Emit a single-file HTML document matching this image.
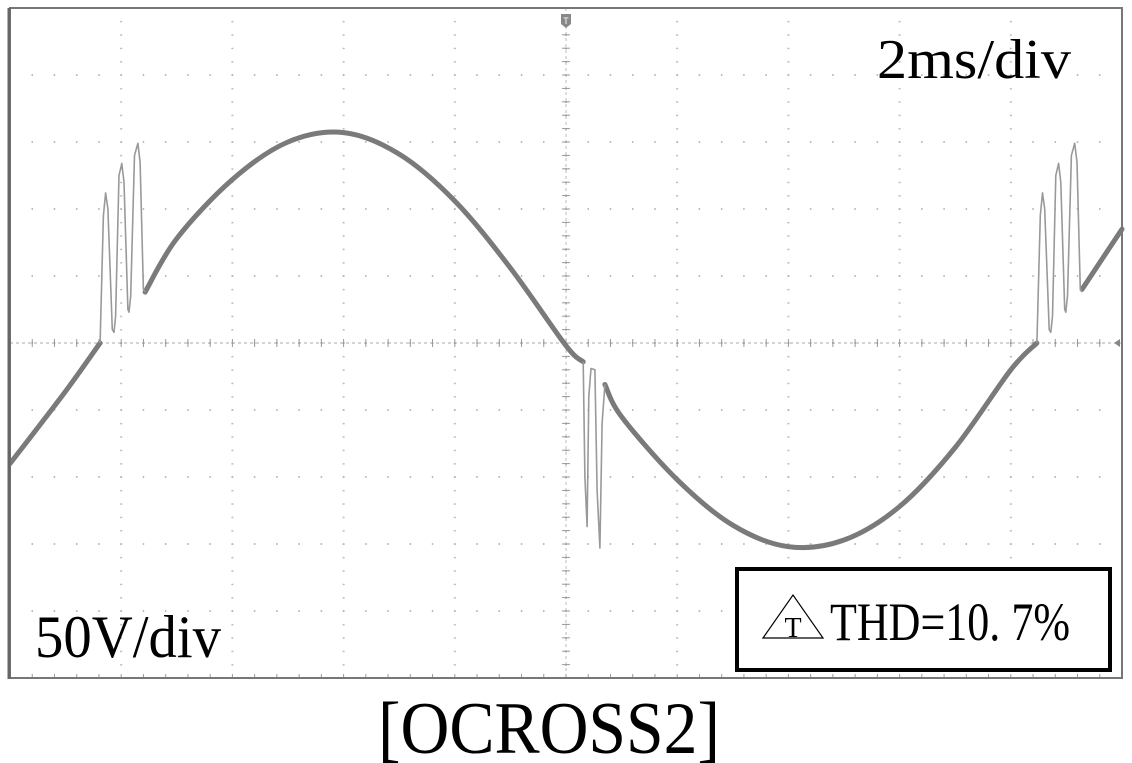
<!DOCTYPE html>
<html><head><meta charset="utf-8"><style>
html,body{margin:0;padding:0;background:#fff;}
svg{display:block;}
text{font-family:"Liberation Serif",serif;fill:#000;}
</style></head><body>
<svg id="chart" width="1132" height="763" viewBox="0 0 1132 763" xmlns="http://www.w3.org/2000/svg">
<rect x="0" y="0" width="1132" height="763" fill="#fff"/>
<g id="grid"></g>
<g id="traces"></g>
<rect x="10" y="8" width="1112" height="670" fill="none" stroke="#777" stroke-width="2"/>
<line x1="9" y1="8" x2="9" y2="679" stroke="#666" stroke-width="3"/>
<g>
<path d="M561,14 h10 v10 l-5,4 l-5,-4 z" fill="#888"/>
<text x="566" y="24" font-size="9" text-anchor="middle" style="fill:#fff;font-family:'Liberation Sans',sans-serif">T</text>
</g>
<path d="M1120,339 l-6,4 l6,4 z" fill="#888"/>
<text x="877" y="78" font-size="56" textLength="194" lengthAdjust="spacingAndGlyphs">2ms/div</text>
<text x="35" y="657" font-size="60" textLength="186" lengthAdjust="spacingAndGlyphs">50V/div</text>
<g>
<rect x="737" y="569" width="373" height="101" fill="#fff" stroke="#000" stroke-width="4"/>
<path d="M763,638 L793,595 L823,638 Z" fill="none" stroke="#000" stroke-width="1.2"/>
<text x="793" y="637" font-size="28" text-anchor="middle">T</text>
<text x="830" y="640" font-size="54" textLength="240" lengthAdjust="spacingAndGlyphs">THD=10. 7%</text>
</g>
<text x="378" y="753" font-size="74" textLength="342" lengthAdjust="spacingAndGlyphs">[OCROSS2]</text>
</svg>
<script>
// time in ms (2 ms/div), voltage in V (50 V/div)
const timeTicks = [-10,-8,-6,-4,-2,0,2,4,6,8,10];
const voltTicks = [-250,-200,-150,-100,-50,0,50,100,150,200,250];
const mainT = [-10,-9,-8.38,null,-7.57,-7,-6,-5,-4,-3,-2,-1,0,0.31,null,0.70,1,2,3,4,5,6,7,8,8.47,null,9.28,10];
const mainV = [-90,-36,0,null,38,78,122,150,157,141,106,56,-2,-14,null,-31,-55,-102,-136,-152,-147,-122,-78,-20,0,null,40,85];
const burst1T = [-8.38,-8.32,-8.28,-8.24,-8.16,-8.13,-8.10,-8.04,-7.99,-7.95,-7.88,-7.86,-7.83,-7.76,-7.70,-7.66,-7.60,-7.57];
const burst1V = [0,95,112,100,10,8,20,125,134,120,25,23,35,140,149,135,40,38];
const burst2T = [0.31,0.34,0.38,0.41,0.45,0.52,0.56,0.61,0.65,0.70];
const burst2V = [-14,-100,-137,-40,-19,-20,-110,-153,-60,-31];
const burst3T = [8.47,8.53,8.57,8.61,8.69,8.72,8.75,8.81,8.86,8.90,8.97,8.99,9.02,9.09,9.15,9.19,9.25,9.28];
const burst3V = [0,95,112,100,10,8,20,125,134,120,25,23,35,140,149,135,40,38];

const X0=10, X1=1122, Y0=8, Y1=678;
const xs = t => X0 + (t - timeTicks[0]) / (timeTicks[timeTicks.length-1]-timeTicks[0]) * (X1-X0);
const ys = v => Y1 - (v - voltTicks[0]) / (voltTicks[voltTicks.length-1]-voltTicks[0]) * (Y1-Y0);
const NS='http://www.w3.org/2000/svg';
const grid=document.getElementById('grid');
const traces=document.getElementById('traces');

timeTicks.forEach((t,i)=>{
  const x=xs(t);
  for(let k=0;k<=50;k++){
    const y=Y0+k*(Y1-Y0)/50;
    const d=document.createElementNS(NS,'rect');
    
    
    d.setAttribute('x',x-1);d.setAttribute('y',y-0.5);d.setAttribute('width',2);d.setAttribute('height',1.5);
    d.setAttribute('fill',t===0?'#999':'#bbb');
    grid.appendChild(d);
  }
});
voltTicks.forEach(v=>{
  const y=ys(v);
  for(let k=0;k<=50;k++){
    const x=X0+k*(X1-X0)/50;
    const d=document.createElementNS(NS,'rect');
    
    
    d.setAttribute('x',x-0.75);d.setAttribute('y',y-1);d.setAttribute('width',1.5);d.setAttribute('height',2);
    d.setAttribute('fill',v===0?'#999':'#bbb');
    grid.appendChild(d);
  }
});
const cx=xs(0), cy=ys(0);
const hl=document.createElementNS(NS,'line');


hl.setAttribute('x1',X0);hl.setAttribute('x2',X1);hl.setAttribute('y1',cy);hl.setAttribute('y2',cy);
hl.setAttribute('stroke','#aaa');hl.setAttribute('stroke-dasharray','3 3');
grid.appendChild(hl);
const vl=document.createElementNS(NS,'line');


vl.setAttribute('x1',cx);vl.setAttribute('x2',cx);vl.setAttribute('y1',Y0);vl.setAttribute('y2',Y1);
vl.setAttribute('stroke','#bbb');vl.setAttribute('stroke-dasharray','3 3');
grid.appendChild(vl);
for(let k=0;k<=50;k++){
  const x=X0+k*(X1-X0)/50;
  const tk=document.createElementNS(NS,'line');
  
  
  tk.setAttribute('x1',x);tk.setAttribute('x2',x);tk.setAttribute('y1',cy-4);tk.setAttribute('y2',cy+4);
  tk.setAttribute('stroke','#999');
  grid.appendChild(tk);
  const tb=document.createElementNS(NS,'line');
  
  
  tb.setAttribute('x1',x);tb.setAttribute('x2',x);tb.setAttribute('y1',Y1-4);tb.setAttribute('y2',Y1);
  tb.setAttribute('stroke','#999');
  grid.appendChild(tb);
}
for(let k=0;k<=50;k++){
  const y=Y0+k*(Y1-Y0)/50;
  const tk=document.createElementNS(NS,'line');
  
  
  tk.setAttribute('x1',cx-4);tk.setAttribute('x2',cx+4);tk.setAttribute('y1',y);tk.setAttribute('y2',y);
  tk.setAttribute('stroke','#999');
  grid.appendChild(tk);
}

function smoothPath(pts){
  if(pts.length<2) return '';
  let d='M'+pts[0][0].toFixed(1)+','+pts[0][1].toFixed(1);
  for(let i=0;i<pts.length-1;i++){
    const p0=pts[i-1]||pts[i], p1=pts[i], p2=pts[i+1], p3=pts[i+2]||p2;
    const c1x=p1[0]+(p2[0]-p0[0])/6, c1y=p1[1]+(p2[1]-p0[1])/6;
    const c2x=p2[0]-(p3[0]-p1[0])/6, c2y=p2[1]-(p3[1]-p1[1])/6;
    d+=' C'+c1x.toFixed(1)+','+c1y.toFixed(1)+' '+c2x.toFixed(1)+','+c2y.toFixed(1)+' '+p2[0].toFixed(1)+','+p2[1].toFixed(1);
  }
  return d;
}
let seg=[];
const segs=[];
mainT.forEach((t,i)=>{
  if(t===null){ if(seg.length) segs.push(seg); seg=[]; }
  else seg.push([xs(t),ys(mainV[i])]);
});
if(seg.length) segs.push(seg);
segs.forEach(s=>{
  const p=document.createElementNS(NS,'path');
  
  
  p.setAttribute('d',smoothPath(s));
  p.setAttribute('fill','none');p.setAttribute('stroke','#7a7a7a');
  p.setAttribute('stroke-width','5');p.setAttribute('stroke-linecap','round');
  traces.appendChild(p);
});
[[burst1T,burst1V,'switching-burst-1'],[burst2T,burst2V,'switching-burst-2'],[burst3T,burst3V,'switching-burst-3']].forEach(([T,V,name])=>{
  const pts=T.map((t,i)=>xs(t).toFixed(1)+','+ys(V[i]).toFixed(1)).join(' ');
  const pl=document.createElementNS(NS,'polyline');
  
  
  pl.setAttribute('points',pts);
  pl.setAttribute('fill','none');pl.setAttribute('stroke','#999');
  pl.setAttribute('stroke-width','1.6');pl.setAttribute('stroke-linejoin','round');
  traces.appendChild(pl);
});
</script>
</body></html>
